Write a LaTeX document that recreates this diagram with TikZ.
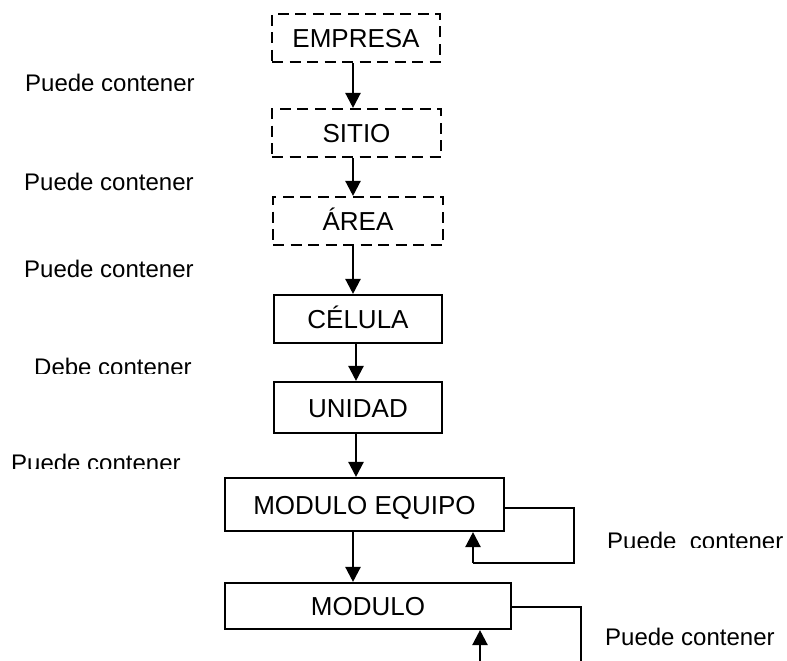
\documentclass[tikz,border=0pt]{standalone}
\usepackage{fontspec}
\setmainfont{Liberation Sans}
\usetikzlibrary{arrows.meta}
\begin{document}
\begin{tikzpicture}[x=1pt,y=-1pt,
  boxbase/.style={draw, line width=2.1pt, inner sep=0pt, text height=19pt, text depth=0pt,
    font=\fontsize{26}{30}\selectfont},
  dbox/.style={boxbase, dash pattern=on 11pt off 6.5pt},
  sbox/.style={boxbase},
  arr/.style={line width=2.3pt, -{Triangle[length=15pt,width=15pt]}},
  loopline/.style={line width=2.1pt},
  lbl/.style={anchor=base west, inner sep=0pt, font=\fontsize{24}{28}\selectfont}]
\useasboundingbox (0,0) rectangle (787,661);

% hierarchy boxes
\node[dbox, minimum width=168pt, minimum height=48pt] (emp) at (356,38) {EMPRESA};
\node[dbox, minimum width=169pt, minimum height=48pt] (sit) at (356.5,133) {SITIO};
\node[dbox, minimum width=170pt, minimum height=48pt] (are) at (358,221) {ÁREA};
\node[sbox, minimum width=168pt, minimum height=48pt] (cel) at (358,319) {CÉLULA};
\node[sbox, minimum width=168pt, minimum height=51pt] (uni) at (358,407.5) {UNIDAD};
\node[sbox, minimum width=279pt, minimum height=53pt] (meq) at (364.5,504.5) {MODULO EQUIPO};
\node[sbox, minimum width=286pt, minimum height=46pt] (mod) at (368,606) {MODULO};

% horizontal positions of the connectors
\coordinate (xa) at (353,0);
\coordinate (xb) at (356,0);

\draw[arr] (xa |- emp.south) -- (xa |- sit.north);
\draw[arr] (xa |- sit.south) -- (xa |- are.north);
\draw[arr] (xa |- are.south) -- (xa |- cel.north);
\draw[arr] (xb |- cel.south) -- (xb |- uni.north);
\draw[arr] (xb |- uni.south) -- (xb |- meq.north);
\draw[arr] (xa |- meq.south) -- (xa |- mod.north);

% self loop of MODULO EQUIPO
\coordinate (l1y) at (0,508);
\coordinate (l1c) at (574,563);
\coordinate (l1x) at (473,0);
\draw[loopline] (meq.east |- l1y) -| (l1c) -- (l1x |- l1c);
\draw[arr] (l1x |- l1c) -- (l1x |- meq.south);

% loop of MODULO, running off the bottom edge
\coordinate (l2y) at (0,607);
\coordinate (l2c) at (581,661);
\coordinate (l2x) at (480,661);
\draw[loopline] (mod.east |- l2y) -| (l2c);
\draw[arr] (l2x) -- (l2x |- mod.south);

% relation labels
\begin{scope}
  \clip (0,60) rectangle (260,90);
  \node[lbl] (t1) at (25,92) {Puede contener};
\end{scope}
\node[lbl] (t2) at (24,190) {Puede contener};
\node[lbl] (t3) at (24,277) {Puede contener};
\begin{scope}
  \clip (0,340) rectangle (260,373);
  \node[lbl] (t4) at (34,375) {Debe contener};
\end{scope}
\begin{scope}
  \clip (0,440) rectangle (220,468);
  \node[lbl] (t5) at (11,471) {Puede contener};
\end{scope}
\begin{scope}
  \clip (590,520) rectangle (787,547);
  \node[lbl] (t6) at (607,549) {Puede\ \ contener};
\end{scope}
\node[lbl] (t7) at (605,645) {Puede contener};
\end{tikzpicture}
\end{document}
